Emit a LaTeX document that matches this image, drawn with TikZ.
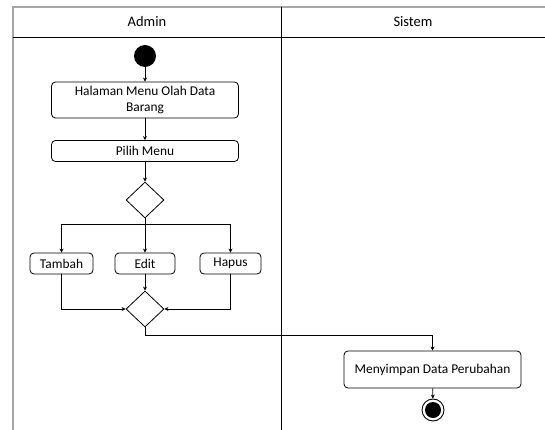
\documentclass[tikz,border=0pt]{standalone}
\usepackage{fontspec}
\setmainfont{Carlito}
\usetikzlibrary{shapes.geometric,arrows.meta}
\begin{document}
\begin{tikzpicture}[x=1pt,y=-1pt,
  every node/.style={font=\fontsize{13.4}{16}\selectfont},
  lane/.style={font=\fontsize{14.5}{17}\selectfont},
  act/.style={draw,rounded corners=4pt,line width=0.8pt,inner sep=2pt,align=center},
  dec/.style={draw,diamond,line width=0.8pt,minimum width=38pt,minimum height=36pt,inner sep=0pt},
  arr/.style={line width=0.7pt,-{Stealth[length=4pt,width=4pt]}},
  ln/.style={line width=0.7pt}]
\useasboundingbox (0,0) rectangle (545,430);

% swimlane frame
\draw[gray!70,line width=1.4pt] (13,430) -- (13,7) -- (545,7);
\draw[line width=0.9pt] (13,37) -- (545,37);
\draw[line width=0.9pt] (281,7) -- (281,430);
\node[lane] (laneA) at (147,22) {Admin};
\node[lane] (laneS) at (413,22) {Sistem};

% admin lane
\node[circle,fill=black,minimum size=22pt,inner sep=0pt] (start) at (145,56) {};
\node[act,minimum width=187pt,minimum height=36pt] (halaman) at (145,100) {Halaman Menu Olah Data\\Barang};
\node[act,minimum width=187pt,minimum height=21pt] (pilih) at (145,151) {Pilih Menu};
\node[dec] (dec1) at (145,200) {};
\coordinate (br) at (145,224);
\node[act,minimum width=63pt,minimum height=21pt] (tambah) at (61.5,263.5) {Tambah};
\node[act,minimum width=60pt,minimum height=21pt] (edit) at (145,263.5) {Edit};
\node[act,minimum width=61pt,minimum height=21pt] (hapus) at (230.5,263.5) {Hapus};
\node[dec] (dec2) at (145,309) {};
\coordinate (turn) at (145,335);

% system lane
\node[act,minimum width=177pt,minimum height=37pt] (simpan) at (432.5,369.5) {Menyimpan Data Perubahan};
\node[circle,draw,line width=0.9pt,minimum size=22pt,inner sep=0pt] (end) at (433,410) {};
\node[circle,fill=black,minimum size=16pt,inner sep=0pt] (endin) at (end) {};

% flow
\draw[arr] (start) -- (halaman);
\draw[arr] (halaman) -- (pilih);
\draw[arr] (pilih) -- (dec1);
\draw[ln] (dec1.south) -- (br);
\draw[arr] (br) -| (tambah.north);
\draw[arr] (br) -- (edit.north);
\draw[arr] (br) -| (hapus.north);
\draw[arr] (tambah.south) |- (dec2.west);
\draw[arr] (edit.south) -- (dec2.north);
\draw[arr] (hapus.south) |- (dec2.east);
\draw[ln] (dec2.south) -- (turn);
\draw[arr] (turn) -| (simpan.north);
\draw[arr] (simpan) -- (end);
\end{tikzpicture}
\end{document}
